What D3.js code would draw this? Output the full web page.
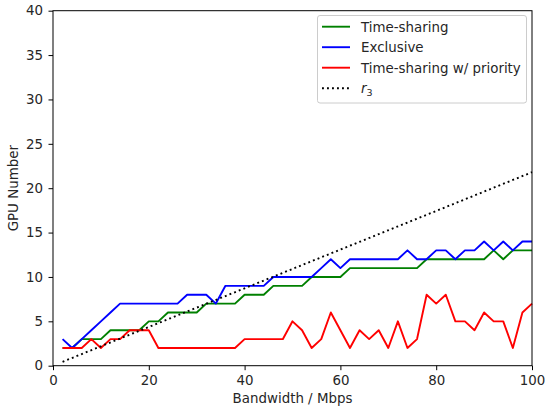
<!DOCTYPE html>
<html><head><meta charset="utf-8">
<script src="https://cdn.jsdelivr.net/npm/d3@7"></script>
<style>body{margin:0;background:#fff}svg{display:block}text{font-family:"DejaVu Sans",sans-serif;fill:#262626}</style>
</head><body>
<script>
const bandwidth = [2,4,6,8,10,12,14,16,18,20,22,24,26,28,30,32,34,36,38,40,42,44,46,48,50,52,54,56,58,60,62,64,66,68,70,72,74,76,78,80,82,84,86,88,90,92,94,96,98,100];
const timeSharing = [2,2,3,3,3,4,4,4,4,5,5,6,6,6,6,7,7,7,7,8,8,8,9,9,9,9,10,10,10,10,11,11,11,11,11,11,11,11,12,12,12,12,12,12,12,13,12,13,13,13];
const exclusive = [3,2,3,4,5,6,7,7,7,7,7,7,7,8,8,8,7,9,9,9,9,9,10,10,10,10,10,11,12,11,12,12,12,12,12,12,13,12,12,13,13,12,13,13,14,13,14,13,14,14];
const priority = [2,2,2,3,2,3,3,4,4,4,2,2,2,2,2,2,2,2,2,3,3,3,3,3,5,4,2,3,6,4,2,4,3,4,2,5,2,3,8,7,8,5,5,4,6,5,5,2,6,7];
const r3X = [2,100];
const r3Y = [0.44,21.8];
const xTicks = [0,20,40,60,80,100];
const yTicks = [0,5,10,15,20,25,30,35,40];
const legendLabels = ["Time-sharing","Exclusive","Time-sharing w/ priority"];

const W=545,H=413, L=53, R=532, T=10.7, B=365.7;
const svg=d3.select("body").append("svg").attr("width",W).attr("height",H);
const x=d3.scaleLinear().domain([0,100]).range([L,R]);
const y=d3.scaleLinear().domain([0,40]).range([B,T]);
const fs="13.4px";
const lw=1.9;

const line=d3.line().x(d=>x(d[0])).y(d=>y(d[1]));
const series=[
 {vals:timeSharing,color:"#008000"},
 {vals:exclusive,color:"#0000ff"},
 {vals:priority,color:"#ff0000"}
];
const g=svg.append("g");
series.forEach(s=>{
  g.append("path").datum(bandwidth.map((b,i)=>[b,s.vals[i]]))
   .attr("d",line).attr("fill","none").attr("stroke",s.color).attr("stroke-width",lw).attr("stroke-linejoin","round");
});
g.append("path").datum(r3X.map((b,i)=>[b,r3Y[i]])).attr("d",line).attr("fill","none")
 .attr("stroke","#000").attr("stroke-width",lw).attr("stroke-dasharray","1.9,3.1");

// axes
const xa=svg.append("g").attr("transform",`translate(0,${B})`)
 .call(d3.axisBottom(x).tickValues(xTicks).tickSize(4.5).tickPadding(5));
const ya=svg.append("g").attr("transform",`translate(${L},0)`)
 .call(d3.axisLeft(y).tickValues(yTicks).tickSize(4.5).tickPadding(5.5));
[xa,ya].forEach(a=>{a.select(".domain").remove();a.selectAll("line").attr("stroke","#000").attr("stroke-width",1);
 a.selectAll("text").style("font-size",fs).style("font-family","DejaVu Sans").attr("fill","#262626");});
svg.append("rect").attr("x",L).attr("y",T).attr("width",R-L).attr("height",B-T)
 .attr("fill","none").attr("stroke","#000").attr("stroke-width",1);

svg.append("text").attr("x",(L+R)/2).attr("y",403.3).attr("text-anchor","middle").style("font-size",fs).text("Bandwidth / Mbps");
svg.append("text").attr("transform",`translate(18.3,${(T+B)/2}) rotate(-90)`).attr("text-anchor","middle").style("font-size",fs).text("GPU Number");

// legend
const lg=svg.append("g");
lg.append("rect").attr("x",317.5).attr("y",15.5).attr("width",209).attr("height",87.5).attr("rx",2.5)
 .attr("fill","#fff").attr("fill-opacity",0.8).attr("stroke","#cccccc").attr("stroke-width",1);
const rows=[26.7,47.2,67.7,88.2];
legendLabels.forEach((t,i)=>{
  lg.append("line").attr("x1",322).attr("x2",350).attr("y1",rows[i]).attr("y2",rows[i]).attr("stroke",series[i].color).attr("stroke-width",lw);
  lg.append("text").attr("x",361).attr("y",rows[i]+4.8).style("font-size",fs).text(t);
});
lg.append("line").attr("x1",322).attr("x2",350).attr("y1",rows[3]).attr("y2",rows[3]).attr("stroke","#000").attr("stroke-width",lw).attr("stroke-dasharray","1.9,3.1");
const rt=lg.append("text").attr("x",361).attr("y",rows[3]+4.8).style("font-size",fs);
rt.append("tspan").style("font-style","italic").text("r");
rt.append("tspan").attr("dy",2.8).style("font-size","9.5px").text("3");
</script>
</body></html>
